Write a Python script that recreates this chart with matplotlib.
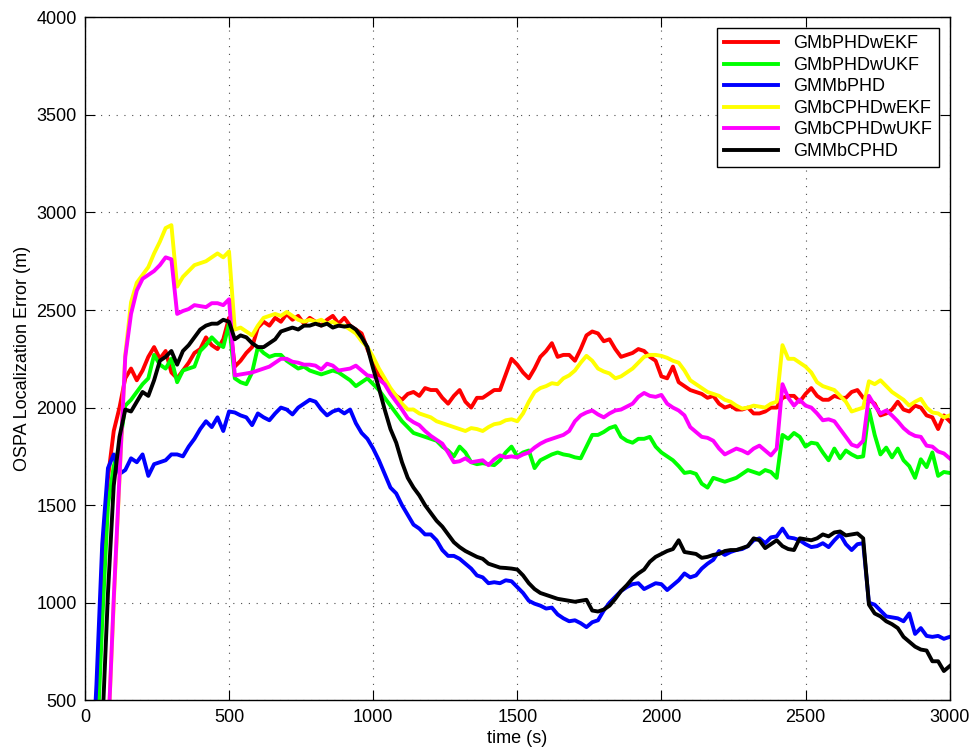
import numpy as np
import matplotlib
matplotlib.use("Agg")
import matplotlib.pyplot as plt

plt.rcParams['font.family'] = ['Liberation Sans', 'DejaVu Sans']

# time axis (s), one sample every 20 s
time_s = np.arange(0, 3001, 20)

labels = ["GMbPHDwEKF", "GMbPHDwUKF", "GMMbPHD",
          "GMbCPHDwEKF", "GMbCPHDwUKF", "GMMbCPHD"]
colors = ["#ff0000", "#00ff00", "#0000ff", "#ffff00", "#ff00ff", "#000000"]

# OSPA localization error (m)
gmbphd_ekf = [
    0, 0, 350, 1100, 1640, 1880, 2000, 2150, 2200, 2140,
    2190, 2260, 2310, 2250, 2290, 2180, 2150, 2190, 2230, 2280,
    2300, 2360, 2320, 2300, 2350, 2460, 2210, 2240, 2280, 2310,
    2410, 2440, 2420, 2460, 2440, 2480, 2450, 2470, 2430, 2460,
    2440, 2420, 2450, 2470, 2430, 2460, 2420, 2400, 2380, 2300,
    2230, 2160, 2130, 2090, 2060, 2040, 2070, 2080, 2060, 2100,
    2090, 2090, 2050, 2020, 2060, 2090, 2030, 2000, 2050, 2050,
    2070, 2090, 2090, 2170, 2250, 2220, 2180, 2150, 2200, 2260,
    2290, 2330, 2260, 2270, 2270, 2240, 2300, 2370, 2390, 2380,
    2340, 2350, 2300, 2260, 2270, 2280, 2300, 2290, 2260, 2240,
    2160, 2150, 2210, 2130, 2110, 2090, 2080, 2070, 2050, 2060,
    2020, 2000, 2010, 1990, 1990, 2000, 1970, 1970, 1980, 2000,
    2000, 2050, 2060, 2060, 2030, 2070, 2100, 2060, 2040, 2040,
    2060, 2050, 2050, 2080, 2090, 2050, 2040, 2020, 1960, 1970,
    1990, 2030, 1990, 1980, 2010, 2000, 1960, 1950, 1890, 1960,
    1930]

gmbphd_ukf = [
    0, 0, 200, 900, 1500, 1700, 1800, 2010, 2040, 2080,
    2120, 2150, 2270, 2220, 2200, 2250, 2130, 2190, 2200, 2210,
    2290, 2320, 2360, 2330, 2310, 2430, 2150, 2130, 2120, 2180,
    2310, 2280, 2260, 2270, 2270, 2240, 2220, 2200, 2210, 2190,
    2180, 2170, 2180, 2190, 2180, 2160, 2140, 2110, 2130, 2150,
    2120, 2090, 2050, 2010, 1970, 1930, 1900, 1870, 1860, 1850,
    1840, 1830, 1800, 1780, 1750, 1800, 1770, 1720, 1710, 1715,
    1710, 1705, 1730, 1770, 1800, 1750, 1770, 1780, 1690, 1730,
    1745, 1760, 1770, 1760, 1755, 1745, 1740, 1800, 1860, 1860,
    1875, 1895, 1905, 1850, 1830, 1820, 1840, 1840, 1850, 1800,
    1770, 1750, 1730, 1700, 1665, 1670, 1660, 1610, 1590, 1640,
    1630, 1620, 1630, 1640, 1660, 1680, 1670, 1660, 1680, 1670,
    1640, 1860, 1840, 1870, 1850, 1800, 1820, 1815, 1770, 1730,
    1790, 1740, 1780, 1760, 1745, 1750, 1990, 1860, 1760, 1795,
    1745, 1790, 1730, 1700, 1640, 1735, 1695, 1770, 1650, 1670,
    1665]

gmmbphd = [
    0, 0, 580, 1300, 1690, 1760, 1660, 1680, 1740, 1720,
    1760, 1650, 1710, 1720, 1730, 1760, 1760, 1750, 1800, 1840,
    1890, 1930, 1900, 1950, 1880, 1980, 1975, 1960, 1950, 1910,
    1970, 1950, 1935, 1970, 2000, 1990, 1965, 2000, 2020, 2040,
    2030, 1990, 1960, 1980, 1990, 1970, 1990, 1920, 1870, 1840,
    1790, 1730, 1660, 1590, 1560, 1500, 1450, 1400, 1380, 1350,
    1350, 1320, 1270, 1240, 1240, 1225, 1200, 1175, 1140, 1130,
    1100, 1105, 1100, 1115, 1110, 1080, 1050, 1010, 995, 985,
    970, 975, 940, 920, 905, 910, 895, 875, 900, 910,
    960, 1000, 1030, 1060, 1080, 1095, 1100, 1070, 1085, 1100,
    1095, 1065, 1090, 1115, 1150, 1130, 1140, 1175, 1200, 1220,
    1265, 1245, 1260, 1270, 1275, 1290, 1320, 1330, 1305, 1335,
    1340, 1380, 1335, 1330, 1320, 1300, 1285, 1290, 1305, 1285,
    1320, 1350, 1300, 1270, 1300, 1305, 1000, 990, 960, 930,
    925, 920, 905, 945, 840, 870, 830, 825, 830, 815,
    825]

gmbcphd_ekf = [
    0, 0, 0, 0, 300, 1000, 1640, 2270, 2540, 2640,
    2680, 2720, 2790, 2850, 2920, 2935, 2620, 2670, 2700, 2730,
    2740, 2750, 2770, 2790, 2770, 2800, 2400, 2410, 2390, 2370,
    2420, 2460, 2470, 2480, 2470, 2490, 2470, 2450, 2440, 2450,
    2440, 2450, 2430, 2440, 2420, 2420, 2400, 2380, 2340, 2310,
    2260, 2200, 2150, 2100, 2060, 2020, 1990, 1990, 1970, 1960,
    1950, 1930, 1920, 1910, 1900, 1890, 1880, 1895, 1890, 1880,
    1900, 1915, 1920, 1935, 1940, 1930, 1970, 2030, 2080, 2100,
    2110, 2125, 2120, 2150, 2165, 2190, 2230, 2265, 2240, 2200,
    2185, 2175, 2150, 2160, 2180, 2200, 2230, 2260, 2270, 2270,
    2265, 2255, 2240, 2230, 2190, 2140, 2120, 2100, 2080, 2070,
    2060, 2040, 2030, 2010, 1995, 2000, 2010, 2005, 2000, 2020,
    2030, 2320, 2250, 2250, 2230, 2210, 2180, 2130, 2110, 2100,
    2090, 2060, 2030, 1980, 1990, 2000, 2135, 2120, 2140, 2110,
    2080, 2060, 2040, 2010, 2030, 2045, 2000, 1975, 1970, 1950,
    1960]

gmbcphd_ukf = [
    0, 0, 0, 0, 300, 1020, 1650, 2260, 2480, 2600,
    2660, 2680, 2700, 2730, 2770, 2760, 2480, 2495, 2505, 2525,
    2520, 2515, 2535, 2535, 2525, 2555, 2165, 2170, 2175, 2180,
    2190, 2200, 2210, 2230, 2250, 2250, 2235, 2230, 2220, 2220,
    2215, 2195, 2225, 2215, 2190, 2195, 2200, 2215, 2190, 2165,
    2160, 2145, 2120, 2070, 2030, 1990, 1945, 1925, 1910, 1880,
    1855, 1835, 1815, 1770, 1720, 1725, 1740, 1720, 1725, 1730,
    1705, 1735, 1755, 1745, 1750, 1745, 1760, 1770, 1795, 1815,
    1830, 1840, 1850, 1860, 1880, 1930, 1960, 1975, 1985, 1965,
    1950, 1970, 1985, 1990, 2005, 2020, 2055, 2075, 2060, 2055,
    2065, 2020, 2000, 1985, 1960, 1900, 1875, 1850, 1845, 1830,
    1790, 1760, 1775, 1790, 1780, 1765, 1790, 1805, 1780, 1755,
    1790, 2120, 2050, 2010, 2040, 2010, 2000, 1970, 1935, 1940,
    1930, 1890, 1850, 1810, 1800, 1830, 2060, 2010, 1970, 1985,
    1960, 1930, 1895, 1870, 1855, 1850, 1805, 1800, 1775, 1765,
    1740]

gmmbcphd = [
    0, 0, 0, 350, 1050, 1600, 1850, 1990, 1980, 2030,
    2080, 2060, 2140, 2240, 2260, 2290, 2220, 2290, 2320, 2360,
    2400, 2420, 2430, 2430, 2450, 2440, 2350, 2370, 2360, 2330,
    2310, 2310, 2330, 2350, 2390, 2400, 2410, 2400, 2420, 2420,
    2430, 2420, 2430, 2410, 2420, 2415, 2420, 2400, 2360, 2310,
    2200, 2100, 1990, 1890, 1820, 1720, 1640, 1590, 1550, 1500,
    1460, 1420, 1390, 1350, 1310, 1285, 1265, 1250, 1235, 1225,
    1200, 1190, 1180, 1178, 1175, 1170, 1140, 1100, 1070, 1050,
    1040, 1030, 1020, 1015, 1010, 1005, 1010, 1015, 960, 955,
    965, 985, 1020, 1060, 1090, 1125, 1150, 1170, 1210, 1235,
    1250, 1265, 1275, 1320, 1260, 1255, 1250, 1230, 1235, 1245,
    1250, 1265, 1270, 1270, 1280, 1290, 1330, 1320, 1280, 1300,
    1320, 1290, 1275, 1270, 1330, 1325, 1320, 1330, 1350, 1340,
    1360, 1365, 1345, 1350, 1355, 1330, 990, 945, 930, 905,
    890, 870, 825, 800, 775, 760, 755, 700, 700, 650,
    675]

series = [gmbphd_ekf, gmbphd_ukf, gmmbphd, gmbcphd_ekf, gmbcphd_ukf, gmmbcphd]

fig = plt.figure(figsize=(9.76, 7.53), dpi=100)
ax = fig.add_axes([0.087, 0.070, 0.886, 0.907])

for vals, lab, col in zip(series, labels, colors):
    ax.plot(time_s, vals, color=col, lw=2.8, label=lab)

ax.set_xlim(0, 3000)
ax.set_ylim(500, 4000)
ax.set_xticks(np.arange(0, 3001, 500))
ax.set_yticks(np.arange(500, 4001, 500))
ax.grid(True, color="0.3", linestyle=(0, (1, 6)), lw=0.8)
ax.tick_params(direction="in", length=7, width=0.8, top=True, right=True,
               labelsize=13, pad=6)
for sp in ax.spines.values():
    sp.set_linewidth(1.0)

ax.set_xlabel("time (s)", fontsize=13, labelpad=3)
ax.set_ylabel("OSPA Localization Error (m)", fontsize=13, labelpad=4)

leg = ax.legend(loc="upper right", fontsize=13, handlelength=3.0,
                labelspacing=0.25, fancybox=False, framealpha=1,
                edgecolor="black", borderpad=0.4, borderaxespad=0.6)
leg.get_frame().set_linewidth(1.0)

fig.savefig("out.png", dpi=100)
